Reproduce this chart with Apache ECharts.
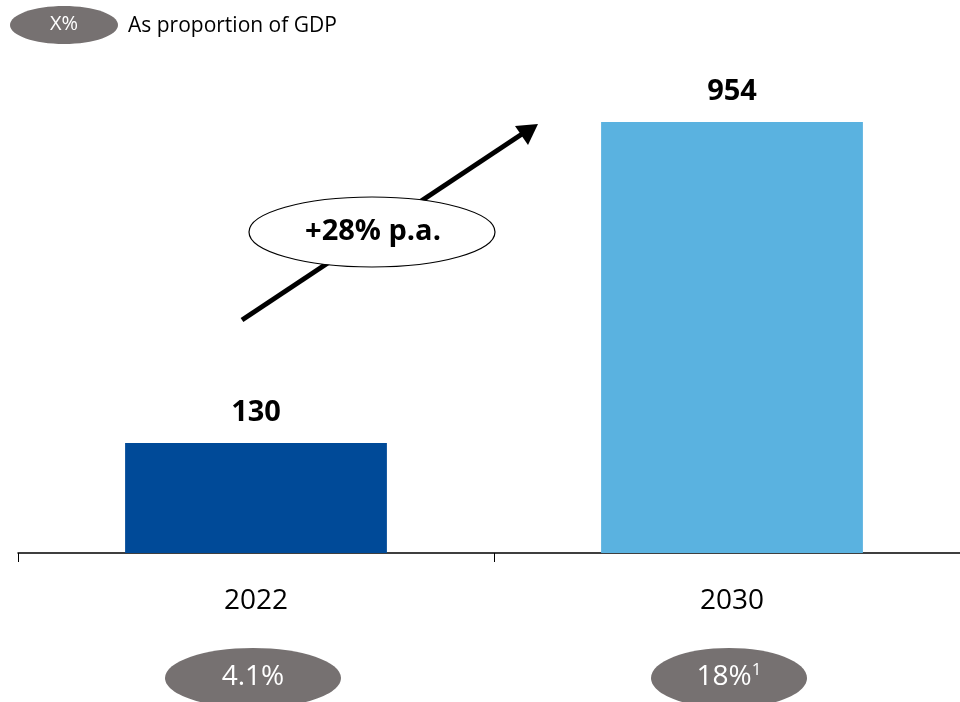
<!DOCTYPE html>
<html><head><meta charset="utf-8">
<script src="https://cdn.jsdelivr.net/npm/echarts@6/dist/echarts.min.js"></script>
<style>html,body{margin:0;padding:0;background:#fff;overflow:hidden}#c{width:970px;height:702px}</style>
</head><body><div id="c"></div>
<script>
const categories = ['2022', '2030'];
const values = [130, 954];
const barColors = ['#004A98', '#5AB2E0'];
const gdpShares = ['4.1%', '18%'];
const gdpNotes = ['', '1'];
const growthLabel = '+28% p.a.';
const legendSymbol = 'X%';
const legendText = 'As proportion of GDP';

const FONT = '"Open Sans",sans-serif';
const chart = echarts.init(document.getElementById('c'));
chart.setOption({
  animation: false,
  grid: { left: 18, right: 0, top: 122, bottom: 149, containLabel: false },
  xAxis: {
    type: 'category', data: categories,
    axisLine: { lineStyle: { color: '#000', width: 1.5 } },
    axisTick: { show: true, length: 9, lineStyle: { color: '#000' } },
    axisLabel: { color: '#000', fontSize: 28, fontFamily: FONT, margin: 34 }
  },
  yAxis: {
    type: 'log', logBase: 10, min: 65.7, max: 954, startValue: 65.7,
    show: false, splitLine: { show: false }
  },
  series: [{
    type: 'bar', clip: true, barWidth: '55%',
    data: values.map((v, i) => ({ value: v, itemStyle: { color: barColors[i] } })),
    label: { show: true, position: 'top', distance: 16, color: '#000', fontSize: 29, fontWeight: 'bold', fontFamily: FONT }
  }]
});

const g = [];
// legend
g.push({ type: 'ellipse', shape: { cx: 64, cy: 25, rx: 54, ry: 19 }, style: { fill: '#767171' } });
g.push({ type: 'text', x: 64, y: 24, style: { text: legendSymbol, fill: '#fff', fontSize: 20, fontFamily: FONT, align: 'center', verticalAlign: 'middle' } });
g.push({ type: 'text', x: 128, y: 26, style: { text: legendText, fill: '#000', fontSize: 21, fontFamily: FONT, align: 'left', verticalAlign: 'middle' } });
// growth arrow
g.push({ type: 'line', shape: { x1: 242, y1: 320, x2: 522, y2: 134 }, style: { stroke: '#000', lineWidth: 5 } });
g.push({ type: 'polygon', shape: { points: [[538, 124], [515, 126], [528, 145]] }, style: { fill: '#000' } });
g.push({ type: 'ellipse', shape: { cx: 372, cy: 232, rx: 123, ry: 35 }, style: { fill: '#fff', stroke: '#000', lineWidth: 1.2 } });
g.push({ type: 'text', x: 373, y: 232, style: { text: growthLabel, fill: '#000', fontSize: 29, fontWeight: 'bold', fontFamily: FONT, align: 'center', verticalAlign: 'middle' } });
// GDP share ellipses under categories
categories.forEach((c, i) => {
  const x = chart.convertToPixel({ xAxisIndex: 0 }, c);
  const cx = x - 3;
  g.push({ type: 'ellipse', shape: { cx: cx, cy: 678, rx: i === 0 ? 88 : 78, ry: 30 }, style: { fill: '#767171' } });
  g.push({ type: 'text', x: cx, y: 677, style: {
    text: gdpNotes[i] ? '{m|' + gdpShares[i] + '}{s|' + gdpNotes[i] + '}' : '{m|' + gdpShares[i] + '}',
    rich: { m: { fill: '#fff', fontSize: 28, fontFamily: FONT }, s: { fill: '#fff', fontSize: 17, fontFamily: FONT, verticalAlign: 'top', padding: [0,0,14,0] } },
    align: 'center', verticalAlign: 'middle' } });
});
chart.setOption({ graphic: g });
</script></body></html>
